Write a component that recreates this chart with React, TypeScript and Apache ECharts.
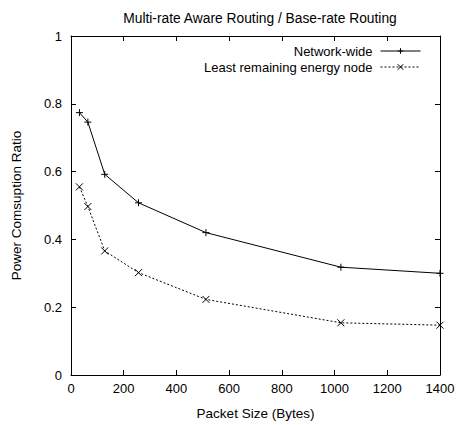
import React, { useEffect, useRef } from "react";
import * as echarts from "echarts";

const packetSizes = [32, 64, 128, 256, 512, 1024, 1400];
const networkWide = [0.774, 0.746, 0.592, 0.508, 0.42, 0.318, 0.3];
const leastRemaining = [0.555, 0.497, 0.366, 0.302, 0.223, 0.154, 0.147];
const seriesNames = ["Network-wide", "Least remaining energy node"];

const FONT = "Liberation Sans, Arial, Helvetica, sans-serif";
const PLUS = "path://M0,5L10,5M5,0L5,10";
const CROSS = "path://M0,0L10,10M0,10L10,0";

export default function App() {
  const ref = useRef<HTMLDivElement>(null);
  useEffect(() => {
    if (!ref.current) return;
    const chart = echarts.init(ref.current, undefined, { renderer: "svg" });
    const axisCommon = {
      axisLine: { show: true, onZero: false, lineStyle: { color: "#000", width: 1 } },
      axisTick: { show: true, inside: true, length: 5, lineStyle: { color: "#000" } },
      splitLine: { show: false },
    };
    chart.setOption({
      animation: false,
      backgroundColor: "#fff",
      textStyle: { fontFamily: FONT },
      title: {
        text: "Multi-rate Aware Routing / Base-rate Routing",
        left: 255,
        textAlign: "center",
        top: 6,
        textStyle: { fontFamily: FONT, fontSize: 13.8, fontWeight: "normal", color: "#000" },
      },
      legend: {
        orient: "vertical",
        right: 40,
        top: 39,
        align: "right",
        itemWidth: 40,
        itemHeight: 7,
        itemGap: 2,
        lineStyle: { width: 1 },
        itemStyle: { borderWidth: 1 },
        textStyle: { fontFamily: FONT, fontSize: 13, lineHeight: 14, color: "#000", padding: [0, 3, 0, 0] },
        data: seriesNames,
      },
      grid: { left: 71, top: 36, width: 369, height: 348, containLabel: false },
      xAxis: [
        {
          type: "value",
          min: 0,
          max: 1400,
          interval: 200,
          position: "bottom",
          name: "Packet Size (Bytes)",
          nameLocation: "middle",
          nameGap: 31,
          nameTextStyle: { fontFamily: FONT, fontSize: 13.5, color: "#000" },
          axisLabel: { color: "#000", fontSize: 13, fontFamily: FONT, margin: 7, formatter: (v: number) => String(v) },
          ...axisCommon,
        },
        {
          type: "value",
          min: 0,
          max: 1400,
          interval: 200,
          position: "top",
          axisLabel: { show: false },
          ...axisCommon,
        },
      ],
      yAxis: [
        {
          type: "value",
          min: 0,
          max: 1,
          interval: 0.2,
          position: "left",
          name: "Power Comsuption Ratio",
          nameLocation: "middle",
          nameGap: 48,
          nameTextStyle: { fontFamily: FONT, fontSize: 13.5, color: "#000" },
          axisLabel: { color: "#000", fontSize: 13, fontFamily: FONT, margin: 9 },
          ...axisCommon,
        },
        {
          type: "value",
          min: 0,
          max: 1,
          interval: 0.2,
          position: "right",
          axisLabel: { show: false },
          ...axisCommon,
        },
      ],
      series: [
        {
          name: seriesNames[0],
          type: "line",
          data: packetSizes.map((x, i) => [x, networkWide[i]]),
          symbol: PLUS,
          symbolSize: 7,
          showAllSymbol: true,
          lineStyle: { color: "#000", width: 1 },
          itemStyle: { color: "#000", borderColor: "#000", borderWidth: 1 },
        },
        {
          name: seriesNames[1],
          type: "line",
          data: packetSizes.map((x, i) => [x, leastRemaining[i]]),
          symbol: CROSS,
          symbolSize: 7,
          showAllSymbol: true,
          lineStyle: { color: "#000", width: 1, type: [2, 2] },
          itemStyle: { color: "#000", borderColor: "#000", borderWidth: 1 },
        },
      ],
    });
    return () => chart.dispose();
  }, []);
  return <div ref={ref} style={{ width: 466, height: 425, position: "absolute", left: 0, top: 0 }} />;
}
